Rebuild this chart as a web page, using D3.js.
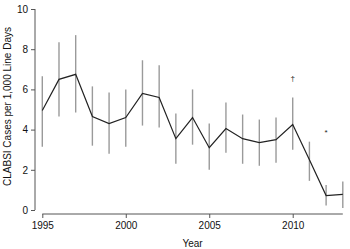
<!DOCTYPE html>
<html lang="en">
<head>
    <meta charset="UTF-8">
    <title>CLABSI Cases per 1,000 Line Days</title>
    <script src="https://d3js.org/d3.v7.min.js"></script>
    <style>
        body { margin: 0; background: #fff; }
        text { font-family: "Liberation Sans", Arial, sans-serif; fill: #111; }
    </style>
</head>
<body>
    <svg width="350" height="249"></svg>

    <script>
        // values
        const years = [1995, 1996, 1997, 1998, 1999, 2000, 2001, 2002, 2003, 2004,
                       2005, 2006, 2007, 2008, 2009, 2010, 2011, 2012, 2013];
        const rate  = [4.95, 6.5, 6.75, 4.65, 4.3, 4.6, 5.8, 5.6, 3.55, 4.6,
                       3.1, 4.05, 3.55, 3.35, 3.5, 4.25, 2.5, 0.72, 0.78];
        const upper = [6.65, 8.35, 8.7, 6.15, 5.85, 6.0, 7.45, 7.2, 4.8, 6.0,
                       4.3, 5.35, 4.75, 4.5, 4.6, 5.6, 3.4, 1.25, 1.42];
        const lower = [3.15, 4.65, 4.85, 3.2, 2.8, 3.15, 4.2, 4.1, 2.3, 3.25,
                       2.0, 2.85, 2.3, 2.2, 2.35, 3.0, 1.45, 0.22, 0.1];
        const xTicks = [1995, 2000, 2005, 2010];
        const yTicks = [0, 2, 4, 6, 8, 10];
        const marks = [{ year: 2010, value: 6.4, sym: "\u2020" }, { year: 2012, value: 3.75, sym: "*" }];

        const svg = d3.select("svg");

        const x = d3.scaleLinear().domain([1995, 2013]).range([42.3, 342.8]);
        const y = d3.scaleLinear().domain([0, 10]).range([210, 9]);

        // axes, R style, offset from the plot
        const yAxis = svg.append("g")
            .attr("transform", "translate(35,0)")
            .call(d3.axisLeft(y).tickValues(yTicks).tickSize(4).tickPadding(3));
        const xAxis = svg.append("g")
            .attr("transform", "translate(0,214)")
            .call(d3.axisBottom(x).tickValues(xTicks).tickFormat(d3.format("d")).tickSize(4).tickPadding(4));

        [yAxis, xAxis].forEach(a => {
            a.selectAll("path").attr("stroke", "#555").attr("d", null);
            a.selectAll("line").attr("stroke", "#555");
            a.selectAll("text").style("font-size", "10px").attr("fill", "#111");
        });
        // axis lines span only the data range
        yAxis.append("line").attr("y1", y(0)).attr("y2", y(10)).attr("stroke", "#555");
        xAxis.append("line").attr("x1", x(1995)).attr("x2", x(2013)).attr("stroke", "#555");

        // axis titles
        svg.append("text")
            .attr("transform", `translate(11,${(y(0) + y(10)) / 2 - 3}) rotate(-90)`)
            .attr("text-anchor", "middle")
            .style("font-size", "10px")
            .text("CLABSI Cases per 1,000 Line Days");

        svg.append("text")
            .attr("x", (x(1995) + x(2013)) / 2)
            .attr("y", 247)
            .attr("text-anchor", "middle")
            .style("font-size", "10px")
            .text("Year");

        // error bars
        svg.selectAll(".err")
            .data(years)
            .enter()
            .append("line")
            .attr("class", "err")
            .attr("x1", d => x(d))
            .attr("x2", d => x(d))
            .attr("y1", (d, i) => y(lower[i]))
            .attr("y2", (d, i) => y(upper[i]))
            .attr("stroke", "#9a9a9a")
            .attr("stroke-width", 1.4);

        // mean line
        const line = d3.line()
            .x((d, i) => x(years[i]))
            .y(d => y(d));

        svg.append("path")
            .datum(rate)
            .attr("d", line)
            .attr("fill", "none")
            .attr("stroke", "#222")
            .attr("stroke-width", 1.2);

        // significance marks
        svg.selectAll(".mark")
            .data(marks)
            .enter()
            .append("text")
            .attr("class", "mark")
            .attr("x", d => x(d.year))
            .attr("y", d => y(d.value))
            .attr("text-anchor", "middle")
            .style("font-size", "8px")
            .style("fill", "#222")
            .text(d => d.sym);
    </script>
</body>
</html>
